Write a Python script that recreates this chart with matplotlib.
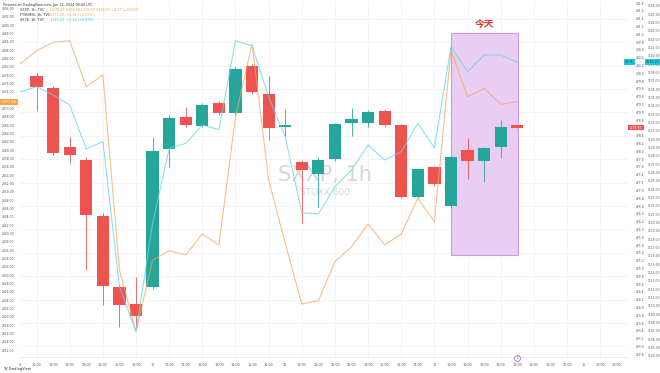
import matplotlib
matplotlib.use("Agg")
import numpy as np
import matplotlib.pyplot as plt
import matplotlib.transforms as mtrans
from matplotlib.patches import Rectangle

# SXXP 1h candles, bars 1..30
opens = [479.92, 479.63, 478.12, 477.78, 476.35, 474.52, 474.08, 474.52, 478.05, 478.89,
         478.66, 479.25, 478.98, 480.19, 479.47, 478.63, 477.73, 477.42, 477.80, 478.72,
         478.72, 479.04, 478.67, 476.84, 477.59, 476.60, 478.04, 477.75, 478.12, 478.68]
highs = [480.02, 479.68, 478.38, 477.86, 476.42, 474.57, 474.79, 478.38, 478.93, 479.15,
         479.24, 479.29, 480.16, 480.24, 479.92, 479.09, 477.78, 477.86, 478.74, 479.11,
         479.06, 479.09, 478.70, 477.57, 477.63, 477.88, 478.34, 478.11, 478.81, 478.68]
lows = [479.04, 477.91, 477.70, 474.96, 474.06, 473.51, 473.51, 474.47, 477.61, 478.63,
        478.63, 478.93, 478.93, 479.47, 478.29, 478.40, 476.16, 476.58, 477.75, 478.40,
        478.63, 478.63, 476.81, 476.81, 477.11, 476.57, 477.28, 477.22, 477.82, 478.60]
closes = [479.66, 477.97, 477.91, 476.37, 474.56, 474.06, 473.78, 478.02, 478.86, 478.67,
          479.20, 478.98, 480.11, 479.52, 478.59, 478.67, 477.52, 477.78, 478.69, 478.82,
          479.02, 478.68, 476.84, 477.54, 477.16, 477.85, 477.75, 478.08, 478.63, 478.61]

# compared symbols, bars 0..30
orange_vals = [2380.65, 2383.84, 2385.86, 2386.24, 2375.20, 2378.01, 2331.21, 2316.40, 2333.61,
               2335.84, 2334.81, 2339.85, 2337.21, 2368.00, 2385.45, 2352.81, 2337.69, 2323.05,
               2323.84, 2333.20, 2336.80, 2342.25, 2337.21, 2339.85, 2348.42, 2342.73, 2384.01,
               2372.80, 2374.82, 2370.98, 2371.60]
cyan_vals = [1135.66, 1136.30, 1135.30, 1134.10, 1128.82, 1129.70, 1112.30, 1106.90, 1119.90,
             1128.90, 1129.50, 1131.70, 1131.14, 1141.82, 1141.18, 1135.10, 1130.30, 1121.18,
             1121.02, 1124.30, 1126.30, 1129.30, 1127.50, 1128.50, 1131.90, 1128.96, 1141.10,
             1138.10, 1140.10, 1140.10, 1139.22]

x_labels = ["9", "10:00", "11:00", "12:00", "13:00", "14:00", "15:00", "16:00",
            "10", "10:00", "11:00", "12:00", "13:00", "14:00", "15:00", "16:00",
            "11", "10:00", "11:00", "12:00", "13:00", "14:00", "15:00", "16:00", "17:00",
            "12", "10:00", "11:00", "12:00", "13:00", "14:00", "15:00", "16:00", "17:00",
            "15", "10:00", "11:00"]

up_col = "#26a69a"
down_col = "#ef5350"
orange_col = "#f5a45a"
cyan_col = "#6ad4e6"
lbl_col = "#555555"

fig = plt.figure(figsize=(6.6, 3.73), dpi=100)
ax = fig.add_axes([20 / 660, 16 / 373, 608 / 660, 357 / 373])
ax.set_xlim(0.686, 36.68)
ax.set_ylim(472.73, 481.88)

# grid
for xg in range(1, 37, 2):
    ax.axvline(xg, color="#f0f2f6", lw=0.5, zorder=0)
for yg in np.arange(473.0, 482.0, 0.6):
    ax.axhline(yg, color="#f0f2f6", lw=0.5, zorder=0)

# today's session
ax.add_patch(Rectangle((26, 475.34), 4.03, 5.69, facecolor="#e9cdf2",
                       edgecolor="#c99ddc", lw=0.8, zorder=0.5))
ax.text(28.0, 481.24, "今天", color="#e53935", fontsize=7, fontweight="bold",
        ha="center", va="center", family=["Noto Sans CJK SC", "DejaVu Sans"])

# watermark
ax.text(0.502, 0.51, "SXXP, 1h", transform=ax.transAxes, fontsize=15,
        color="#d6d6d6", ha="center", va="center", zorder=0.6)
ax.text(0.502, 0.462, "STOXX 600", transform=ax.transAxes, fontsize=6.5,
        color="#d6d6d6", ha="center", va="center", zorder=0.6)

# candles
xs = np.arange(1, len(opens) + 1)
o = np.array(opens)
c = np.array(closes)
cols = [up_col if cc >= oo else down_col for oo, cc in zip(o, c)]
ax.vlines(xs, lows, highs, colors=cols, lw=0.6, zorder=2)
ax.bar(xs, np.abs(c - o), bottom=np.minimum(o, c), width=0.74, color=cols, zorder=3)

# orange symbol on left scale
axl = ax.twinx()
axl.set_ylim(2310.33, 2396.01)
axl.plot(np.arange(0, len(orange_vals)), orange_vals, color=orange_col, lw=0.8, alpha=0.7)
axl.yaxis.tick_left()
axl.set_yticks(np.arange(2312, 2396, 2.0))
axl.yaxis.set_major_formatter(matplotlib.ticker.FormatStrFormatter("%.2f"))
axl.tick_params(axis="y", length=0, pad=4, labelsize=2.2, labelcolor=lbl_col)
for s in axl.spines.values():
    s.set_visible(False)

# cyan symbol on the outer right scale
axr = ax.twinx()
axr.set_ylim(1103.86, 1146.70)
axr.plot(np.arange(0, len(cyan_vals)), cyan_vals, color=cyan_col, lw=0.8, alpha=0.75)
axr.yaxis.tick_right()
axr.set_yticks(np.arange(1104, 1147, 1.0))
axr.yaxis.set_major_formatter(matplotlib.ticker.FormatStrFormatter("%.2f"))
axr.tick_params(axis="y", length=0, pad=14.5, labelsize=2.2, labelcolor=lbl_col)
for s in axr.spines.values():
    s.set_visible(False)
axr.set_xlim(ax.get_xlim())
axl.set_xlim(ax.get_xlim())

# right axis 1 (SXXP) -- after twinx, which moves it left
ax.yaxis.tick_right()
ax.set_yticks(np.round(np.arange(472.8, 481.9, 0.2), 2))
ax.tick_params(axis="y", left=False, labelleft=False, right=True, labelright=True,
               length=0, pad=6, labelsize=2.2, labelcolor=lbl_col)
ax.set_xticks(range(len(x_labels)))
ax.set_xticklabels(x_labels)
ax.tick_params(axis="x", length=0, pad=4, labelsize=2.4, labelcolor=lbl_col)
for s in ["top", "left", "right"]:
    ax.spines[s].set_visible(False)
ax.spines["bottom"].set_color("#e6e6e6")
ax.spines["bottom"].set_linewidth(0.5)

# price tags
tl = mtrans.blended_transform_factory(fig.transFigure, axl.transData)
fig.text(0.001, orange_vals[-1], " %.2f " % orange_vals[-1], transform=tl, fontsize=2.4,
         color="white", va="center", ha="left", zorder=10,
         bbox=dict(fc="#f7a24a", ec="none", pad=0.6))
tr = mtrans.blended_transform_factory(fig.transFigure, ax.transData)
fig.text(629 / 660, closes[-1], " %.2f " % closes[-1], transform=tr, fontsize=2.4,
         color="white", va="center", ha="left", zorder=10,
         bbox=dict(fc=down_col, ec="none", pad=0.6))
tc = mtrans.blended_transform_factory(fig.transFigure, axr.transData)
fig.text(625 / 660, cyan_vals[-1], "SX7E", transform=tc, fontsize=2.4,
         color="#0b4f5a", va="center", ha="left", zorder=10,
         bbox=dict(fc="#26c6da", ec="none", pad=0.6))
fig.text(646 / 660, cyan_vals[-1], "%.2f" % cyan_vals[-1], transform=tc, fontsize=2.4,
         color="#0b4f5a", va="center", ha="left", zorder=10,
         bbox=dict(fc="#26c6da", ec="none", pad=0.6))

# event marker on the time axis
te = mtrans.blended_transform_factory(ax.transData, ax.transAxes)
ax.scatter([30], [-0.004], s=18, facecolor="white", edgecolor="#b36ad1", lw=0.6,
           transform=te, clip_on=False, zorder=5)
ax.text(30, -0.004, "E", transform=te, fontsize=2.5, color="#b36ad1",
        ha="center", va="center", clip_on=False, zorder=6)

# header / legend
fig.text(0.004, 0.992, "Pictured on TradingView.com, Jan 12, 2024 09:45 UTC",
         fontsize=2.4, color="#333333", va="top")
fig.text(0.03, 0.978, "SXXP, 1h, TVC", fontsize=2.4, color="#333333", va="top")
fig.text(0.075, 0.978, "O478.68 H478.68 L478.60 C478.61 \u22120.07 (\u22120.01%)",
         fontsize=2.4, color="#f7a24a", va="top")
fig.text(0.03, 0.965, "FTSEMIB, 1h, TVC", fontsize=2.4, color="#333333", va="top")
fig.text(0.075, 0.965, "2371.60  +0.18 (+0.01%)", fontsize=2.4, color=orange_col, va="top")
fig.text(0.03, 0.952, "SX7E, 1h, TVC", fontsize=2.4, color="#333333", va="top")
fig.text(0.075, 0.952, "1139.22  +0.12 (+0.01%)", fontsize=2.4, color="#26c6da", va="top")
fig.text(0.004, 0.006, "TV TradingView", fontsize=2.6, color="#222222", va="bottom")

fig.savefig("out.png", dpi=100, facecolor="white")
